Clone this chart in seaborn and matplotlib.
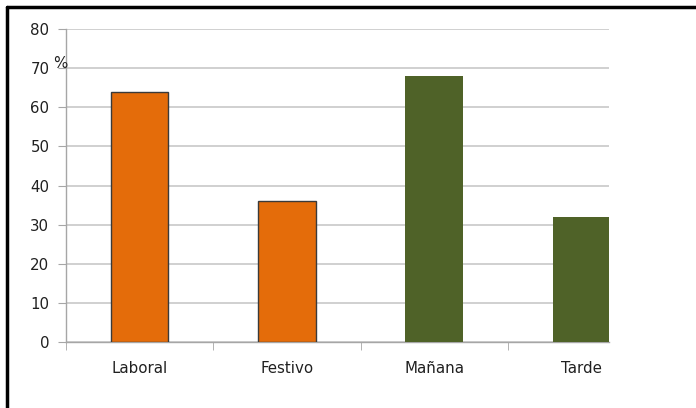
import matplotlib
matplotlib.use("Agg")
import matplotlib.pyplot as plt
import seaborn as sns
from matplotlib.lines import Line2D

# datos
categorias = ["Laboral", "Festivo", "Mañana", "Tarde"]
valores = [64, 36, 68, 32]
colores = ["#E46C0A", "#E46C0A", "#4F6228", "#4F6228"]
bordes = ["#3a3a3a", "#3a3a3a", "none", "none"]

sns.set_style("white")
plt.rcParams['font.family'] = ['DejaVu Sans']

fig = plt.figure(figsize=(6.96, 4.08), dpi=100)
ax = fig.add_axes([0.0948, 0.1618, 0.780, 0.767])

sns.barplot(x=categorias, y=valores, hue=categorias, palette=colores,
            saturation=1, width=0.39, legend=False, ax=ax, zorder=3)
for barra, borde in zip(ax.patches, bordes):
    barra.set_edgecolor(borde)
    barra.set_linewidth(1.0)

ax.set_ylim(0, 80)
ax.set_xlim(-0.5, 3.186)
ax.set_yticks(range(0, 81, 10))
ax.yaxis.grid(True, color="#c8c8c8", linewidth=1.2, zorder=0)
ax.xaxis.grid(False)

for lado in ["top", "right"]:
    ax.spines[lado].set_visible(False)
ax.spines["left"].set_color("#a6a6a6")
ax.spines["bottom"].set_color("#a6a6a6")
ax.spines["left"].set_linewidth(1.0)
ax.spines["bottom"].set_linewidth(1.0)

# marcas del eje x en los limites de categoria
ax.set_xticks([-0.5, 0.5, 1.5, 2.5], minor=True)
ax.tick_params(axis="x", which="major", length=0, pad=14, labelsize=10.8, colors="#202020")
ax.tick_params(axis="x", which="minor", length=6, color="#a6a6a6", direction="out", bottom=True)
ax.tick_params(axis="y", length=6, color="#a6a6a6", direction="out", left=True, pad=6,
               labelsize=10.8, colors="#202020")
ax.set_xlabel("")
ax.set_ylabel("")

ax.text(-0.011, 71.2, "%", transform=ax.get_yaxis_transform(), ha="center", va="center",
        fontsize=10.8, color="#202020")

# marco negro del recorte
fig.add_artist(Line2D([7 / 696, 1], [1 - 7 / 408, 1 - 7 / 408], color="black", linewidth=2.5,
                      transform=fig.transFigure))
fig.add_artist(Line2D([7 / 696, 7 / 696], [0, 1 - 7 / 408], color="black", linewidth=2.5,
                      transform=fig.transFigure))

fig.savefig("out.png", dpi=100)
